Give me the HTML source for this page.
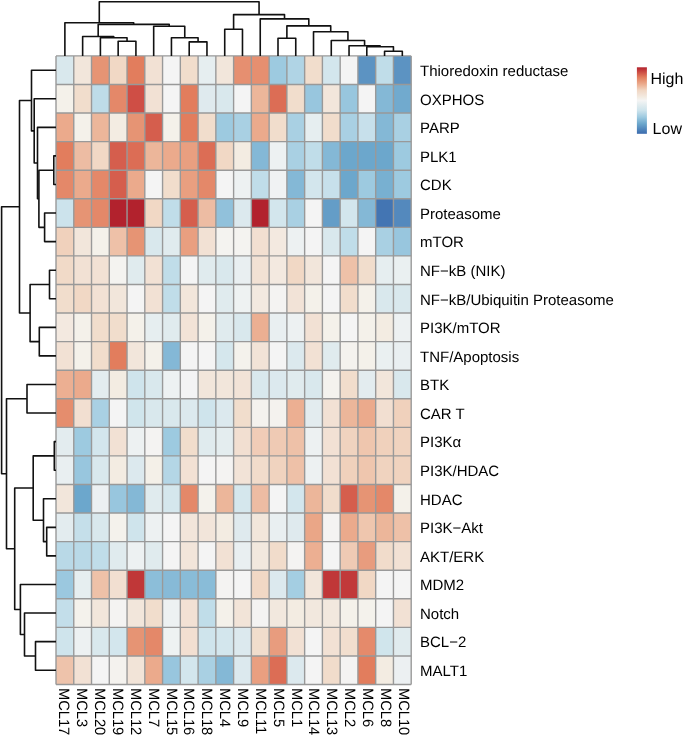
<!DOCTYPE html>
<html><head><meta charset="utf-8"><style>
html,body{margin:0;padding:0;background:#fff;}
body{width:685px;height:736px;overflow:hidden;font-family:"Liberation Sans",sans-serif;}
svg{display:block;will-change:transform;} text{text-rendering:geometricPrecision;}
</style></head><body>
<svg width="685" height="736" viewBox="0 0 685 736">
<defs><linearGradient id="lg" x1="0" y1="0" x2="0" y2="1"><stop offset="0%" stop-color="#b2222d"/><stop offset="5%" stop-color="#c53f3d"/><stop offset="10%" stop-color="#d55e4d"/><stop offset="15%" stop-color="#e27d5d"/><stop offset="20%" stop-color="#e69474"/><stop offset="25%" stop-color="#ebaa8c"/><stop offset="30%" stop-color="#eec1a8"/><stop offset="35%" stop-color="#f1d8c5"/><stop offset="40%" stop-color="#f2e1d4"/><stop offset="45%" stop-color="#f3ece2"/><stop offset="50%" stop-color="#f4f4f4"/><stop offset="55%" stop-color="#e6eef0"/><stop offset="60%" stop-color="#d9e8ed"/><stop offset="65%" stop-color="#cce3ec"/><stop offset="70%" stop-color="#b5d6e6"/><stop offset="75%" stop-color="#9dcae0"/><stop offset="80%" stop-color="#84b8d6"/><stop offset="85%" stop-color="#6ca7cc"/><stop offset="90%" stop-color="#5c93c2"/><stop offset="95%" stop-color="#4b7fb8"/><stop offset="100%" stop-color="#3b6bae"/></linearGradient></defs>
<rect x="0" y="0" width="685" height="736" fill="#ffffff"/>
<g shape-rendering="crispEdges"><rect x="56.00" y="55.90" width="17.76" height="28.57" fill="#d9e8ed"/><rect x="73.76" y="55.90" width="17.76" height="28.57" fill="#f2e6db"/><rect x="91.52" y="55.90" width="17.76" height="28.57" fill="#e69474"/><rect x="109.28" y="55.90" width="17.76" height="28.57" fill="#f1d8c5"/><rect x="127.04" y="55.90" width="17.76" height="28.57" fill="#e27d5d"/><rect x="144.80" y="55.90" width="17.76" height="28.57" fill="#f2e1d4"/><rect x="162.56" y="55.90" width="17.76" height="28.57" fill="#f4f4f4"/><rect x="180.32" y="55.90" width="17.76" height="28.57" fill="#f1ddcc"/><rect x="198.08" y="55.90" width="17.76" height="28.57" fill="#e6eef0"/><rect x="215.84" y="55.90" width="17.76" height="28.57" fill="#f2e6db"/><rect x="233.60" y="55.90" width="17.76" height="28.57" fill="#e68f70"/><rect x="251.36" y="55.90" width="17.76" height="28.57" fill="#e68f70"/><rect x="269.12" y="55.90" width="17.76" height="28.57" fill="#9dcae0"/><rect x="286.88" y="55.90" width="17.76" height="28.57" fill="#b0d4e5"/><rect x="304.64" y="55.90" width="17.76" height="28.57" fill="#f1ddcc"/><rect x="322.40" y="55.90" width="17.76" height="28.57" fill="#d3e6ed"/><rect x="340.16" y="55.90" width="17.76" height="28.57" fill="#f4f4f4"/><rect x="357.92" y="55.90" width="17.76" height="28.57" fill="#5c93c2"/><rect x="375.68" y="55.90" width="17.76" height="28.57" fill="#c0dde9"/><rect x="393.44" y="55.90" width="17.76" height="28.57" fill="#5c93c2"/><rect x="56.00" y="84.47" width="17.76" height="28.57" fill="#f4f1ea"/><rect x="73.76" y="84.47" width="17.76" height="28.57" fill="#f1ddcc"/><rect x="91.52" y="84.47" width="17.76" height="28.57" fill="#bedce8"/><rect x="109.28" y="84.47" width="17.76" height="28.57" fill="#e48869"/><rect x="127.04" y="84.47" width="17.76" height="28.57" fill="#cf4e45"/><rect x="144.80" y="84.47" width="17.76" height="28.57" fill="#f2e1d4"/><rect x="162.56" y="84.47" width="17.76" height="28.57" fill="#f4f4f4"/><rect x="180.32" y="84.47" width="17.76" height="28.57" fill="#e27d5d"/><rect x="198.08" y="84.47" width="17.76" height="28.57" fill="#dfeaee"/><rect x="215.84" y="84.47" width="17.76" height="28.57" fill="#d9e8ed"/><rect x="233.60" y="84.47" width="17.76" height="28.57" fill="#f4f4f4"/><rect x="251.36" y="84.47" width="17.76" height="28.57" fill="#ecb69a"/><rect x="269.12" y="84.47" width="17.76" height="28.57" fill="#dc6d55"/><rect x="286.88" y="84.47" width="17.76" height="28.57" fill="#f1ddcc"/><rect x="304.64" y="84.47" width="17.76" height="28.57" fill="#98c6de"/><rect x="322.40" y="84.47" width="17.76" height="28.57" fill="#f2e6db"/><rect x="340.16" y="84.47" width="17.76" height="28.57" fill="#98c6de"/><rect x="357.92" y="84.47" width="17.76" height="28.57" fill="#f4f4f4"/><rect x="375.68" y="84.47" width="17.76" height="28.57" fill="#84b8d6"/><rect x="393.44" y="84.47" width="17.76" height="28.57" fill="#71aace"/><rect x="56.00" y="113.05" width="17.76" height="28.57" fill="#ebaa8c"/><rect x="73.76" y="113.05" width="17.76" height="28.57" fill="#f4f1ea"/><rect x="91.52" y="113.05" width="17.76" height="28.57" fill="#ecb69a"/><rect x="109.28" y="113.05" width="17.76" height="28.57" fill="#f3ece2"/><rect x="127.04" y="113.05" width="17.76" height="28.57" fill="#e69474"/><rect x="144.80" y="113.05" width="17.76" height="28.57" fill="#d55e4d"/><rect x="162.56" y="113.05" width="17.76" height="28.57" fill="#f4f1ea"/><rect x="180.32" y="113.05" width="17.76" height="28.57" fill="#e27d5d"/><rect x="198.08" y="113.05" width="17.76" height="28.57" fill="#f1ddcc"/><rect x="215.84" y="113.05" width="17.76" height="28.57" fill="#9dcae0"/><rect x="233.60" y="113.05" width="17.76" height="28.57" fill="#a9d0e3"/><rect x="251.36" y="113.05" width="17.76" height="28.57" fill="#ebaa8c"/><rect x="269.12" y="113.05" width="17.76" height="28.57" fill="#f1ddcc"/><rect x="286.88" y="113.05" width="17.76" height="28.57" fill="#a9d0e3"/><rect x="304.64" y="113.05" width="17.76" height="28.57" fill="#e6eef0"/><rect x="322.40" y="113.05" width="17.76" height="28.57" fill="#f1ddcc"/><rect x="340.16" y="113.05" width="17.76" height="28.57" fill="#a9d0e3"/><rect x="357.92" y="113.05" width="17.76" height="28.57" fill="#c7e0eb"/><rect x="375.68" y="113.05" width="17.76" height="28.57" fill="#84b8d6"/><rect x="393.44" y="113.05" width="17.76" height="28.57" fill="#a9d0e3"/><rect x="56.00" y="141.62" width="17.76" height="28.57" fill="#e27d5d"/><rect x="73.76" y="141.62" width="17.76" height="28.57" fill="#edbca3"/><rect x="91.52" y="141.62" width="17.76" height="28.57" fill="#f1d8c5"/><rect x="109.28" y="141.62" width="17.76" height="28.57" fill="#d55e4d"/><rect x="127.04" y="141.62" width="17.76" height="28.57" fill="#dc6d55"/><rect x="144.80" y="141.62" width="17.76" height="28.57" fill="#ecb69a"/><rect x="162.56" y="141.62" width="17.76" height="28.57" fill="#ebaa8c"/><rect x="180.32" y="141.62" width="17.76" height="28.57" fill="#e99f80"/><rect x="198.08" y="141.62" width="17.76" height="28.57" fill="#dc6d55"/><rect x="215.84" y="141.62" width="17.76" height="28.57" fill="#f1d8c5"/><rect x="233.60" y="141.62" width="17.76" height="28.57" fill="#f3ece2"/><rect x="251.36" y="141.62" width="17.76" height="28.57" fill="#84b8d6"/><rect x="269.12" y="141.62" width="17.76" height="28.57" fill="#edf1f2"/><rect x="286.88" y="141.62" width="17.76" height="28.57" fill="#a9d0e3"/><rect x="304.64" y="141.62" width="17.76" height="28.57" fill="#c0dde9"/><rect x="322.40" y="141.62" width="17.76" height="28.57" fill="#84b8d6"/><rect x="340.16" y="141.62" width="17.76" height="28.57" fill="#6ca7cc"/><rect x="357.92" y="141.62" width="17.76" height="28.57" fill="#6ca7cc"/><rect x="375.68" y="141.62" width="17.76" height="28.57" fill="#6ca7cc"/><rect x="393.44" y="141.62" width="17.76" height="28.57" fill="#9dcae0"/><rect x="56.00" y="170.19" width="17.76" height="28.57" fill="#e48869"/><rect x="73.76" y="170.19" width="17.76" height="28.57" fill="#ebaa8c"/><rect x="91.52" y="170.19" width="17.76" height="28.57" fill="#e48869"/><rect x="109.28" y="170.19" width="17.76" height="28.57" fill="#d55e4d"/><rect x="127.04" y="170.19" width="17.76" height="28.57" fill="#ebaa8c"/><rect x="144.80" y="170.19" width="17.76" height="28.57" fill="#f4f4f4"/><rect x="162.56" y="170.19" width="17.76" height="28.57" fill="#f1ddcc"/><rect x="180.32" y="170.19" width="17.76" height="28.57" fill="#e99f80"/><rect x="198.08" y="170.19" width="17.76" height="28.57" fill="#e48869"/><rect x="215.84" y="170.19" width="17.76" height="28.57" fill="#f4f4f4"/><rect x="233.60" y="170.19" width="17.76" height="28.57" fill="#edf1f2"/><rect x="251.36" y="170.19" width="17.76" height="28.57" fill="#c0dde9"/><rect x="269.12" y="170.19" width="17.76" height="28.57" fill="#f0f2f3"/><rect x="286.88" y="170.19" width="17.76" height="28.57" fill="#84b8d6"/><rect x="304.64" y="170.19" width="17.76" height="28.57" fill="#d3e6ed"/><rect x="322.40" y="170.19" width="17.76" height="28.57" fill="#c7e0eb"/><rect x="340.16" y="170.19" width="17.76" height="28.57" fill="#6ca7cc"/><rect x="357.92" y="170.19" width="17.76" height="28.57" fill="#9dcae0"/><rect x="375.68" y="170.19" width="17.76" height="28.57" fill="#78b0d1"/><rect x="393.44" y="170.19" width="17.76" height="28.57" fill="#9dcae0"/><rect x="56.00" y="198.76" width="17.76" height="28.57" fill="#cce3ec"/><rect x="73.76" y="198.76" width="17.76" height="28.57" fill="#e69474"/><rect x="91.52" y="198.76" width="17.76" height="28.57" fill="#e48869"/><rect x="109.28" y="198.76" width="17.76" height="28.57" fill="#b2222d"/><rect x="127.04" y="198.76" width="17.76" height="28.57" fill="#b2222d"/><rect x="144.80" y="198.76" width="17.76" height="28.57" fill="#f1d8c5"/><rect x="162.56" y="198.76" width="17.76" height="28.57" fill="#c0dde9"/><rect x="180.32" y="198.76" width="17.76" height="28.57" fill="#d55e4d"/><rect x="198.08" y="198.76" width="17.76" height="28.57" fill="#edbca3"/><rect x="215.84" y="198.76" width="17.76" height="28.57" fill="#91c1db"/><rect x="233.60" y="198.76" width="17.76" height="28.57" fill="#dce9ee"/><rect x="251.36" y="198.76" width="17.76" height="28.57" fill="#b2222d"/><rect x="269.12" y="198.76" width="17.76" height="28.57" fill="#d3e6ed"/><rect x="286.88" y="198.76" width="17.76" height="28.57" fill="#a9d0e3"/><rect x="304.64" y="198.76" width="17.76" height="28.57" fill="#f4f4f4"/><rect x="322.40" y="198.76" width="17.76" height="28.57" fill="#649dc7"/><rect x="340.16" y="198.76" width="17.76" height="28.57" fill="#d3e6ed"/><rect x="357.92" y="198.76" width="17.76" height="28.57" fill="#84b8d6"/><rect x="375.68" y="198.76" width="17.76" height="28.57" fill="#4375b3"/><rect x="393.44" y="198.76" width="17.76" height="28.57" fill="#5489bd"/><rect x="56.00" y="227.34" width="17.76" height="28.57" fill="#f0d1bc"/><rect x="73.76" y="227.34" width="17.76" height="28.57" fill="#f2e6db"/><rect x="91.52" y="227.34" width="17.76" height="28.57" fill="#f4f1ea"/><rect x="109.28" y="227.34" width="17.76" height="28.57" fill="#eec1a8"/><rect x="127.04" y="227.34" width="17.76" height="28.57" fill="#e69474"/><rect x="144.80" y="227.34" width="17.76" height="28.57" fill="#d9e8ed"/><rect x="162.56" y="227.34" width="17.76" height="28.57" fill="#e0ebee"/><rect x="180.32" y="227.34" width="17.76" height="28.57" fill="#e99f80"/><rect x="198.08" y="227.34" width="17.76" height="28.57" fill="#f2e1d4"/><rect x="215.84" y="227.34" width="17.76" height="28.57" fill="#f4f3f0"/><rect x="233.60" y="227.34" width="17.76" height="28.57" fill="#f4f3f0"/><rect x="251.36" y="227.34" width="17.76" height="28.57" fill="#f2dfd1"/><rect x="269.12" y="227.34" width="17.76" height="28.57" fill="#f3e9e0"/><rect x="286.88" y="227.34" width="17.76" height="28.57" fill="#edf1f2"/><rect x="304.64" y="227.34" width="17.76" height="28.57" fill="#f4f4f4"/><rect x="322.40" y="227.34" width="17.76" height="28.57" fill="#d9e8ed"/><rect x="340.16" y="227.34" width="17.76" height="28.57" fill="#c0dde9"/><rect x="357.92" y="227.34" width="17.76" height="28.57" fill="#f4f4f4"/><rect x="375.68" y="227.34" width="17.76" height="28.57" fill="#a9d0e3"/><rect x="393.44" y="227.34" width="17.76" height="28.57" fill="#98c6de"/><rect x="56.00" y="255.91" width="17.76" height="28.57" fill="#f1dac8"/><rect x="73.76" y="255.91" width="17.76" height="28.57" fill="#f2e1d4"/><rect x="91.52" y="255.91" width="17.76" height="28.57" fill="#f2e1d4"/><rect x="109.28" y="255.91" width="17.76" height="28.57" fill="#f4f3f0"/><rect x="127.04" y="255.91" width="17.76" height="28.57" fill="#e0ebee"/><rect x="144.80" y="255.91" width="17.76" height="28.57" fill="#f2e1d4"/><rect x="162.56" y="255.91" width="17.76" height="28.57" fill="#c0dde9"/><rect x="180.32" y="255.91" width="17.76" height="28.57" fill="#f4f4f4"/><rect x="198.08" y="255.91" width="17.76" height="28.57" fill="#e0ebee"/><rect x="215.84" y="255.91" width="17.76" height="28.57" fill="#d9e8ed"/><rect x="233.60" y="255.91" width="17.76" height="28.57" fill="#e9eff1"/><rect x="251.36" y="255.91" width="17.76" height="28.57" fill="#f2e1d4"/><rect x="269.12" y="255.91" width="17.76" height="28.57" fill="#f3e9e0"/><rect x="286.88" y="255.91" width="17.76" height="28.57" fill="#f1d8c5"/><rect x="304.64" y="255.91" width="17.76" height="28.57" fill="#f2e6db"/><rect x="322.40" y="255.91" width="17.76" height="28.57" fill="#f4f4f4"/><rect x="340.16" y="255.91" width="17.76" height="28.57" fill="#eec1a8"/><rect x="357.92" y="255.91" width="17.76" height="28.57" fill="#f1ddcc"/><rect x="375.68" y="255.91" width="17.76" height="28.57" fill="#e6eef0"/><rect x="393.44" y="255.91" width="17.76" height="28.57" fill="#eaf0f1"/><rect x="56.00" y="284.48" width="17.76" height="28.57" fill="#f1ddcc"/><rect x="73.76" y="284.48" width="17.76" height="28.57" fill="#f1d8c5"/><rect x="91.52" y="284.48" width="17.76" height="28.57" fill="#f2e1d4"/><rect x="109.28" y="284.48" width="17.76" height="28.57" fill="#f2e6db"/><rect x="127.04" y="284.48" width="17.76" height="28.57" fill="#f4f4f4"/><rect x="144.80" y="284.48" width="17.76" height="28.57" fill="#f2e1d4"/><rect x="162.56" y="284.48" width="17.76" height="28.57" fill="#c0dde9"/><rect x="180.32" y="284.48" width="17.76" height="28.57" fill="#f2e6db"/><rect x="198.08" y="284.48" width="17.76" height="28.57" fill="#f4f4f4"/><rect x="215.84" y="284.48" width="17.76" height="28.57" fill="#e0ebee"/><rect x="233.60" y="284.48" width="17.76" height="28.57" fill="#eef2f2"/><rect x="251.36" y="284.48" width="17.76" height="28.57" fill="#f3e9e0"/><rect x="269.12" y="284.48" width="17.76" height="28.57" fill="#f4f3f2"/><rect x="286.88" y="284.48" width="17.76" height="28.57" fill="#f2e3d7"/><rect x="304.64" y="284.48" width="17.76" height="28.57" fill="#f4f1ea"/><rect x="322.40" y="284.48" width="17.76" height="28.57" fill="#f4f4f4"/><rect x="340.16" y="284.48" width="17.76" height="28.57" fill="#f1ddcc"/><rect x="357.92" y="284.48" width="17.76" height="28.57" fill="#f4f1ea"/><rect x="375.68" y="284.48" width="17.76" height="28.57" fill="#d9e8ed"/><rect x="393.44" y="284.48" width="17.76" height="28.57" fill="#d9e8ed"/><rect x="56.00" y="313.05" width="17.76" height="28.57" fill="#f3e9e0"/><rect x="73.76" y="313.05" width="17.76" height="28.57" fill="#f4f1ea"/><rect x="91.52" y="313.05" width="17.76" height="28.57" fill="#f1ddcc"/><rect x="109.28" y="313.05" width="17.76" height="28.57" fill="#f1ddcc"/><rect x="127.04" y="313.05" width="17.76" height="28.57" fill="#f4f1ea"/><rect x="144.80" y="313.05" width="17.76" height="28.57" fill="#e6eef0"/><rect x="162.56" y="313.05" width="17.76" height="28.57" fill="#e0ebee"/><rect x="180.32" y="313.05" width="17.76" height="28.57" fill="#f2e3d7"/><rect x="198.08" y="313.05" width="17.76" height="28.57" fill="#f4f1ea"/><rect x="215.84" y="313.05" width="17.76" height="28.57" fill="#e0ebee"/><rect x="233.60" y="313.05" width="17.76" height="28.57" fill="#d9e8ed"/><rect x="251.36" y="313.05" width="17.76" height="28.57" fill="#ecaf92"/><rect x="269.12" y="313.05" width="17.76" height="28.57" fill="#e9eff1"/><rect x="286.88" y="313.05" width="17.76" height="28.57" fill="#edf1f2"/><rect x="304.64" y="313.05" width="17.76" height="28.57" fill="#f2e1d4"/><rect x="322.40" y="313.05" width="17.76" height="28.57" fill="#f4f1ea"/><rect x="340.16" y="313.05" width="17.76" height="28.57" fill="#f4f4f4"/><rect x="357.92" y="313.05" width="17.76" height="28.57" fill="#f4f1ea"/><rect x="375.68" y="313.05" width="17.76" height="28.57" fill="#f3ece2"/><rect x="393.44" y="313.05" width="17.76" height="28.57" fill="#edf1f2"/><rect x="56.00" y="341.63" width="17.76" height="28.57" fill="#f2e1d4"/><rect x="73.76" y="341.63" width="17.76" height="28.57" fill="#f4f1ea"/><rect x="91.52" y="341.63" width="17.76" height="28.57" fill="#f1ddcc"/><rect x="109.28" y="341.63" width="17.76" height="28.57" fill="#e27d5d"/><rect x="127.04" y="341.63" width="17.76" height="28.57" fill="#f2e6db"/><rect x="144.80" y="341.63" width="17.76" height="28.57" fill="#f4f1ea"/><rect x="162.56" y="341.63" width="17.76" height="28.57" fill="#84b8d6"/><rect x="180.32" y="341.63" width="17.76" height="28.57" fill="#f4f4f4"/><rect x="198.08" y="341.63" width="17.76" height="28.57" fill="#f4f4f4"/><rect x="215.84" y="341.63" width="17.76" height="28.57" fill="#d5e7ed"/><rect x="233.60" y="341.63" width="17.76" height="28.57" fill="#f4f2ec"/><rect x="251.36" y="341.63" width="17.76" height="28.57" fill="#f2e3d7"/><rect x="269.12" y="341.63" width="17.76" height="28.57" fill="#f4f4f4"/><rect x="286.88" y="341.63" width="17.76" height="28.57" fill="#dce9ee"/><rect x="304.64" y="341.63" width="17.76" height="28.57" fill="#f2e1d4"/><rect x="322.40" y="341.63" width="17.76" height="28.57" fill="#e0ebee"/><rect x="340.16" y="341.63" width="17.76" height="28.57" fill="#f4f2ee"/><rect x="357.92" y="341.63" width="17.76" height="28.57" fill="#f4f1ea"/><rect x="375.68" y="341.63" width="17.76" height="28.57" fill="#eaf0f1"/><rect x="393.44" y="341.63" width="17.76" height="28.57" fill="#e9eff1"/><rect x="56.00" y="370.20" width="17.76" height="28.57" fill="#ecaf92"/><rect x="73.76" y="370.20" width="17.76" height="28.57" fill="#ebaa8c"/><rect x="91.52" y="370.20" width="17.76" height="28.57" fill="#e3ecef"/><rect x="109.28" y="370.20" width="17.76" height="28.57" fill="#f3ece2"/><rect x="127.04" y="370.20" width="17.76" height="28.57" fill="#cfe4ec"/><rect x="144.80" y="370.20" width="17.76" height="28.57" fill="#d9e8ed"/><rect x="162.56" y="370.20" width="17.76" height="28.57" fill="#edf1f2"/><rect x="180.32" y="370.20" width="17.76" height="28.57" fill="#f3f3f4"/><rect x="198.08" y="370.20" width="17.76" height="28.57" fill="#f2e6db"/><rect x="215.84" y="370.20" width="17.76" height="28.57" fill="#f2e6db"/><rect x="233.60" y="370.20" width="17.76" height="28.57" fill="#f2e3d7"/><rect x="251.36" y="370.20" width="17.76" height="28.57" fill="#d9e8ed"/><rect x="269.12" y="370.20" width="17.76" height="28.57" fill="#dce9ee"/><rect x="286.88" y="370.20" width="17.76" height="28.57" fill="#e0ebee"/><rect x="304.64" y="370.20" width="17.76" height="28.57" fill="#d9e8ed"/><rect x="322.40" y="370.20" width="17.76" height="28.57" fill="#f4f2ee"/><rect x="340.16" y="370.20" width="17.76" height="28.57" fill="#f1ddcc"/><rect x="357.92" y="370.20" width="17.76" height="28.57" fill="#e3ecef"/><rect x="375.68" y="370.20" width="17.76" height="28.57" fill="#f2e6db"/><rect x="393.44" y="370.20" width="17.76" height="28.57" fill="#d9e8ed"/><rect x="56.00" y="398.77" width="17.76" height="28.57" fill="#e58d6d"/><rect x="73.76" y="398.77" width="17.76" height="28.57" fill="#f2dfd1"/><rect x="91.52" y="398.77" width="17.76" height="28.57" fill="#a9d0e3"/><rect x="109.28" y="398.77" width="17.76" height="28.57" fill="#f4f4f4"/><rect x="127.04" y="398.77" width="17.76" height="28.57" fill="#d0e5ec"/><rect x="144.80" y="398.77" width="17.76" height="28.57" fill="#d9e8ed"/><rect x="162.56" y="398.77" width="17.76" height="28.57" fill="#d9e8ed"/><rect x="180.32" y="398.77" width="17.76" height="28.57" fill="#dce9ee"/><rect x="198.08" y="398.77" width="17.76" height="28.57" fill="#cfe4ec"/><rect x="215.84" y="398.77" width="17.76" height="28.57" fill="#dce9ee"/><rect x="233.60" y="398.77" width="17.76" height="28.57" fill="#f1ddcc"/><rect x="251.36" y="398.77" width="17.76" height="28.57" fill="#f4f2ee"/><rect x="269.12" y="398.77" width="17.76" height="28.57" fill="#f4f2ee"/><rect x="286.88" y="398.77" width="17.76" height="28.57" fill="#ecaf92"/><rect x="304.64" y="398.77" width="17.76" height="28.57" fill="#e3ecef"/><rect x="322.40" y="398.77" width="17.76" height="28.57" fill="#f2e1d4"/><rect x="340.16" y="398.77" width="17.76" height="28.57" fill="#ecb69a"/><rect x="357.92" y="398.77" width="17.76" height="28.57" fill="#ebaa8c"/><rect x="375.68" y="398.77" width="17.76" height="28.57" fill="#f2dfd1"/><rect x="393.44" y="398.77" width="17.76" height="28.57" fill="#f0d1bc"/><rect x="56.00" y="427.35" width="17.76" height="28.57" fill="#e3ecef"/><rect x="73.76" y="427.35" width="17.76" height="28.57" fill="#9dcae0"/><rect x="91.52" y="427.35" width="17.76" height="28.57" fill="#d3e6ed"/><rect x="109.28" y="427.35" width="17.76" height="28.57" fill="#f2e1d4"/><rect x="127.04" y="427.35" width="17.76" height="28.57" fill="#edf1f2"/><rect x="144.80" y="427.35" width="17.76" height="28.57" fill="#f4f3f2"/><rect x="162.56" y="427.35" width="17.76" height="28.57" fill="#9dcae0"/><rect x="180.32" y="427.35" width="17.76" height="28.57" fill="#f1ddcc"/><rect x="198.08" y="427.35" width="17.76" height="28.57" fill="#e0ebee"/><rect x="215.84" y="427.35" width="17.76" height="28.57" fill="#e4edef"/><rect x="233.60" y="427.35" width="17.76" height="28.57" fill="#f2dfd1"/><rect x="251.36" y="427.35" width="17.76" height="28.57" fill="#f0ccb7"/><rect x="269.12" y="427.35" width="17.76" height="28.57" fill="#efcab4"/><rect x="286.88" y="427.35" width="17.76" height="28.57" fill="#eec1a8"/><rect x="304.64" y="427.35" width="17.76" height="28.57" fill="#edf1f2"/><rect x="322.40" y="427.35" width="17.76" height="28.57" fill="#f2e1d4"/><rect x="340.16" y="427.35" width="17.76" height="28.57" fill="#f0d3bf"/><rect x="357.92" y="427.35" width="17.76" height="28.57" fill="#efc6ae"/><rect x="375.68" y="427.35" width="17.76" height="28.57" fill="#f0d1bc"/><rect x="393.44" y="427.35" width="17.76" height="28.57" fill="#f0d3bf"/><rect x="56.00" y="455.92" width="17.76" height="28.57" fill="#e9eff1"/><rect x="73.76" y="455.92" width="17.76" height="28.57" fill="#98c6de"/><rect x="91.52" y="455.92" width="17.76" height="28.57" fill="#d9e8ed"/><rect x="109.28" y="455.92" width="17.76" height="28.57" fill="#f3ece2"/><rect x="127.04" y="455.92" width="17.76" height="28.57" fill="#dce9ee"/><rect x="144.80" y="455.92" width="17.76" height="28.57" fill="#f4f0e8"/><rect x="162.56" y="455.92" width="17.76" height="28.57" fill="#b4d6e6"/><rect x="180.32" y="455.92" width="17.76" height="28.57" fill="#f2e1d4"/><rect x="198.08" y="455.92" width="17.76" height="28.57" fill="#f4f4f4"/><rect x="215.84" y="455.92" width="17.76" height="28.57" fill="#f4f3f2"/><rect x="233.60" y="455.92" width="17.76" height="28.57" fill="#f2e3d7"/><rect x="251.36" y="455.92" width="17.76" height="28.57" fill="#f1dccb"/><rect x="269.12" y="455.92" width="17.76" height="28.57" fill="#f0d3bf"/><rect x="286.88" y="455.92" width="17.76" height="28.57" fill="#eec1a8"/><rect x="304.64" y="455.92" width="17.76" height="28.57" fill="#edf1f2"/><rect x="322.40" y="455.92" width="17.76" height="28.57" fill="#f2e1d4"/><rect x="340.16" y="455.92" width="17.76" height="28.57" fill="#f0d1bc"/><rect x="357.92" y="455.92" width="17.76" height="28.57" fill="#efc6ae"/><rect x="375.68" y="455.92" width="17.76" height="28.57" fill="#f0d3bf"/><rect x="393.44" y="455.92" width="17.76" height="28.57" fill="#f0d3bf"/><rect x="56.00" y="484.49" width="17.76" height="28.57" fill="#f2e6db"/><rect x="73.76" y="484.49" width="17.76" height="28.57" fill="#6ca7cc"/><rect x="91.52" y="484.49" width="17.76" height="28.57" fill="#ecf0f2"/><rect x="109.28" y="484.49" width="17.76" height="28.57" fill="#98c6de"/><rect x="127.04" y="484.49" width="17.76" height="28.57" fill="#84b8d6"/><rect x="144.80" y="484.49" width="17.76" height="28.57" fill="#e0ebee"/><rect x="162.56" y="484.49" width="17.76" height="28.57" fill="#d5e7ed"/><rect x="180.32" y="484.49" width="17.76" height="28.57" fill="#e48869"/><rect x="198.08" y="484.49" width="17.76" height="28.57" fill="#f4f2ec"/><rect x="215.84" y="484.49" width="17.76" height="28.57" fill="#ecb69a"/><rect x="233.60" y="484.49" width="17.76" height="28.57" fill="#d5e7ed"/><rect x="251.36" y="484.49" width="17.76" height="28.57" fill="#edbca3"/><rect x="269.12" y="484.49" width="17.76" height="28.57" fill="#f4f4f4"/><rect x="286.88" y="484.49" width="17.76" height="28.57" fill="#d3e6ed"/><rect x="304.64" y="484.49" width="17.76" height="28.57" fill="#ecb69a"/><rect x="322.40" y="484.49" width="17.76" height="28.57" fill="#f1ddcc"/><rect x="340.16" y="484.49" width="17.76" height="28.57" fill="#d55e4d"/><rect x="357.92" y="484.49" width="17.76" height="28.57" fill="#e69474"/><rect x="375.68" y="484.49" width="17.76" height="28.57" fill="#e48869"/><rect x="393.44" y="484.49" width="17.76" height="28.57" fill="#f4f1ea"/><rect x="56.00" y="513.06" width="17.76" height="28.57" fill="#e3ecef"/><rect x="73.76" y="513.06" width="17.76" height="28.57" fill="#c5dfea"/><rect x="91.52" y="513.06" width="17.76" height="28.57" fill="#d9e8ed"/><rect x="109.28" y="513.06" width="17.76" height="28.57" fill="#f4f2ec"/><rect x="127.04" y="513.06" width="17.76" height="28.57" fill="#cfe4ec"/><rect x="144.80" y="513.06" width="17.76" height="28.57" fill="#edf1f2"/><rect x="162.56" y="513.06" width="17.76" height="28.57" fill="#f4f4f4"/><rect x="180.32" y="513.06" width="17.76" height="28.57" fill="#f2e5da"/><rect x="198.08" y="513.06" width="17.76" height="28.57" fill="#f2e5da"/><rect x="215.84" y="513.06" width="17.76" height="28.57" fill="#f3ece2"/><rect x="233.60" y="513.06" width="17.76" height="28.57" fill="#dfeaee"/><rect x="251.36" y="513.06" width="17.76" height="28.57" fill="#f2e6db"/><rect x="269.12" y="513.06" width="17.76" height="28.57" fill="#e9eff1"/><rect x="286.88" y="513.06" width="17.76" height="28.57" fill="#dfeaee"/><rect x="304.64" y="513.06" width="17.76" height="28.57" fill="#eaa687"/><rect x="322.40" y="513.06" width="17.76" height="28.57" fill="#f4f3f2"/><rect x="340.16" y="513.06" width="17.76" height="28.57" fill="#ebaa8c"/><rect x="357.92" y="513.06" width="17.76" height="28.57" fill="#efc6ae"/><rect x="375.68" y="513.06" width="17.76" height="28.57" fill="#ecb69a"/><rect x="393.44" y="513.06" width="17.76" height="28.57" fill="#eec1a8"/><rect x="56.00" y="541.64" width="17.76" height="28.57" fill="#b9d9e7"/><rect x="73.76" y="541.64" width="17.76" height="28.57" fill="#b9d9e7"/><rect x="91.52" y="541.64" width="17.76" height="28.57" fill="#c0dde9"/><rect x="109.28" y="541.64" width="17.76" height="28.57" fill="#e0ebee"/><rect x="127.04" y="541.64" width="17.76" height="28.57" fill="#edf1f2"/><rect x="144.80" y="541.64" width="17.76" height="28.57" fill="#e0ebee"/><rect x="162.56" y="541.64" width="17.76" height="28.57" fill="#f4f4f4"/><rect x="180.32" y="541.64" width="17.76" height="28.57" fill="#f2e5da"/><rect x="198.08" y="541.64" width="17.76" height="28.57" fill="#f4f4f4"/><rect x="215.84" y="541.64" width="17.76" height="28.57" fill="#f2e1d4"/><rect x="233.60" y="541.64" width="17.76" height="28.57" fill="#e9eff1"/><rect x="251.36" y="541.64" width="17.76" height="28.57" fill="#f2e8de"/><rect x="269.12" y="541.64" width="17.76" height="28.57" fill="#f1dccb"/><rect x="286.88" y="541.64" width="17.76" height="28.57" fill="#f4f3f2"/><rect x="304.64" y="541.64" width="17.76" height="28.57" fill="#ecaf92"/><rect x="322.40" y="541.64" width="17.76" height="28.57" fill="#f4f4f4"/><rect x="340.16" y="541.64" width="17.76" height="28.57" fill="#efcab4"/><rect x="357.92" y="541.64" width="17.76" height="28.57" fill="#e89c7e"/><rect x="375.68" y="541.64" width="17.76" height="28.57" fill="#f1dccb"/><rect x="393.44" y="541.64" width="17.76" height="28.57" fill="#f2e1d4"/><rect x="56.00" y="570.21" width="17.76" height="28.57" fill="#9bc8df"/><rect x="73.76" y="570.21" width="17.76" height="28.57" fill="#e6eef0"/><rect x="91.52" y="570.21" width="17.76" height="28.57" fill="#eec1a8"/><rect x="109.28" y="570.21" width="17.76" height="28.57" fill="#f2dfd1"/><rect x="127.04" y="570.21" width="17.76" height="28.57" fill="#c03738"/><rect x="144.80" y="570.21" width="17.76" height="28.57" fill="#8cbed9"/><rect x="162.56" y="570.21" width="17.76" height="28.57" fill="#87bad7"/><rect x="180.32" y="570.21" width="17.76" height="28.57" fill="#89bcd8"/><rect x="198.08" y="570.21" width="17.76" height="28.57" fill="#89bcd8"/><rect x="215.84" y="570.21" width="17.76" height="28.57" fill="#f4f3f2"/><rect x="233.60" y="570.21" width="17.76" height="28.57" fill="#f4f4f4"/><rect x="251.36" y="570.21" width="17.76" height="28.57" fill="#f1d8c5"/><rect x="269.12" y="570.21" width="17.76" height="28.57" fill="#dce9ee"/><rect x="286.88" y="570.21" width="17.76" height="28.57" fill="#a4cee2"/><rect x="304.64" y="570.21" width="17.76" height="28.57" fill="#f2e6db"/><rect x="322.40" y="570.21" width="17.76" height="28.57" fill="#c03738"/><rect x="340.16" y="570.21" width="17.76" height="28.57" fill="#c1393a"/><rect x="357.92" y="570.21" width="17.76" height="28.57" fill="#f1d8c5"/><rect x="375.68" y="570.21" width="17.76" height="28.57" fill="#f4f4f4"/><rect x="393.44" y="570.21" width="17.76" height="28.57" fill="#f4f4f4"/><rect x="56.00" y="598.78" width="17.76" height="28.57" fill="#c3deea"/><rect x="73.76" y="598.78" width="17.76" height="28.57" fill="#f4f2ec"/><rect x="91.52" y="598.78" width="17.76" height="28.57" fill="#f2e6db"/><rect x="109.28" y="598.78" width="17.76" height="28.57" fill="#f4f3f2"/><rect x="127.04" y="598.78" width="17.76" height="28.57" fill="#f2e6db"/><rect x="144.80" y="598.78" width="17.76" height="28.57" fill="#f1ddcc"/><rect x="162.56" y="598.78" width="17.76" height="28.57" fill="#edf1f2"/><rect x="180.32" y="598.78" width="17.76" height="28.57" fill="#f2e1d4"/><rect x="198.08" y="598.78" width="17.76" height="28.57" fill="#c0dde9"/><rect x="215.84" y="598.78" width="17.76" height="28.57" fill="#f4f1ea"/><rect x="233.60" y="598.78" width="17.76" height="28.57" fill="#f2e4d8"/><rect x="251.36" y="598.78" width="17.76" height="28.57" fill="#f4f3f2"/><rect x="269.12" y="598.78" width="17.76" height="28.57" fill="#f2e8de"/><rect x="286.88" y="598.78" width="17.76" height="28.57" fill="#f3ece2"/><rect x="304.64" y="598.78" width="17.76" height="28.57" fill="#f2e8de"/><rect x="322.40" y="598.78" width="17.76" height="28.57" fill="#f2e8de"/><rect x="340.16" y="598.78" width="17.76" height="28.57" fill="#f4f1ea"/><rect x="357.92" y="598.78" width="17.76" height="28.57" fill="#f4f2ec"/><rect x="375.68" y="598.78" width="17.76" height="28.57" fill="#f4f4f4"/><rect x="393.44" y="598.78" width="17.76" height="28.57" fill="#f2e1d4"/><rect x="56.00" y="627.35" width="17.76" height="28.57" fill="#cfe4ec"/><rect x="73.76" y="627.35" width="17.76" height="28.57" fill="#edf1f2"/><rect x="91.52" y="627.35" width="17.76" height="28.57" fill="#d9e8ed"/><rect x="109.28" y="627.35" width="17.76" height="28.57" fill="#d3e6ed"/><rect x="127.04" y="627.35" width="17.76" height="28.57" fill="#e69474"/><rect x="144.80" y="627.35" width="17.76" height="28.57" fill="#e48869"/><rect x="162.56" y="627.35" width="17.76" height="28.57" fill="#eef2f2"/><rect x="180.32" y="627.35" width="17.76" height="28.57" fill="#f2dfd1"/><rect x="198.08" y="627.35" width="17.76" height="28.57" fill="#cfe4ec"/><rect x="215.84" y="627.35" width="17.76" height="28.57" fill="#d3e6ed"/><rect x="233.60" y="627.35" width="17.76" height="28.57" fill="#dce9ee"/><rect x="251.36" y="627.35" width="17.76" height="28.57" fill="#f1ddcc"/><rect x="269.12" y="627.35" width="17.76" height="28.57" fill="#e89c7e"/><rect x="286.88" y="627.35" width="17.76" height="28.57" fill="#f2e1d4"/><rect x="304.64" y="627.35" width="17.76" height="28.57" fill="#f4f4f4"/><rect x="322.40" y="627.35" width="17.76" height="28.57" fill="#f2e1d4"/><rect x="340.16" y="627.35" width="17.76" height="28.57" fill="#f1dece"/><rect x="357.92" y="627.35" width="17.76" height="28.57" fill="#e58a6b"/><rect x="375.68" y="627.35" width="17.76" height="28.57" fill="#d0e5ec"/><rect x="393.44" y="627.35" width="17.76" height="28.57" fill="#e0ebee"/><rect x="56.00" y="655.93" width="17.76" height="28.57" fill="#eec3ab"/><rect x="73.76" y="655.93" width="17.76" height="28.57" fill="#f2e1d4"/><rect x="91.52" y="655.93" width="17.76" height="28.57" fill="#f4f4f4"/><rect x="109.28" y="655.93" width="17.76" height="28.57" fill="#f4f2ee"/><rect x="127.04" y="655.93" width="17.76" height="28.57" fill="#f2e4d8"/><rect x="144.80" y="655.93" width="17.76" height="28.57" fill="#ebaa8c"/><rect x="162.56" y="655.93" width="17.76" height="28.57" fill="#98c6de"/><rect x="180.32" y="655.93" width="17.76" height="28.57" fill="#d3e6ed"/><rect x="198.08" y="655.93" width="17.76" height="28.57" fill="#a9d0e3"/><rect x="215.84" y="655.93" width="17.76" height="28.57" fill="#84b8d6"/><rect x="233.60" y="655.93" width="17.76" height="28.57" fill="#dce9ee"/><rect x="251.36" y="655.93" width="17.76" height="28.57" fill="#e99f80"/><rect x="269.12" y="655.93" width="17.76" height="28.57" fill="#dc6d55"/><rect x="286.88" y="655.93" width="17.76" height="28.57" fill="#dce9ee"/><rect x="304.64" y="655.93" width="17.76" height="28.57" fill="#f4f4f4"/><rect x="322.40" y="655.93" width="17.76" height="28.57" fill="#f1dccb"/><rect x="340.16" y="655.93" width="17.76" height="28.57" fill="#f4f3f2"/><rect x="357.92" y="655.93" width="17.76" height="28.57" fill="#e27d5d"/><rect x="375.68" y="655.93" width="17.76" height="28.57" fill="#f3ece2"/><rect x="393.44" y="655.93" width="17.76" height="28.57" fill="#ecf0f2"/></g>
<g stroke="#999999" stroke-width="1.4" fill="none"><line x1="56.00" y1="55.90" x2="56.00" y2="684.50"/><line x1="73.76" y1="55.90" x2="73.76" y2="684.50"/><line x1="91.52" y1="55.90" x2="91.52" y2="684.50"/><line x1="109.28" y1="55.90" x2="109.28" y2="684.50"/><line x1="127.04" y1="55.90" x2="127.04" y2="684.50"/><line x1="144.80" y1="55.90" x2="144.80" y2="684.50"/><line x1="162.56" y1="55.90" x2="162.56" y2="684.50"/><line x1="180.32" y1="55.90" x2="180.32" y2="684.50"/><line x1="198.08" y1="55.90" x2="198.08" y2="684.50"/><line x1="215.84" y1="55.90" x2="215.84" y2="684.50"/><line x1="233.60" y1="55.90" x2="233.60" y2="684.50"/><line x1="251.36" y1="55.90" x2="251.36" y2="684.50"/><line x1="269.12" y1="55.90" x2="269.12" y2="684.50"/><line x1="286.88" y1="55.90" x2="286.88" y2="684.50"/><line x1="304.64" y1="55.90" x2="304.64" y2="684.50"/><line x1="322.40" y1="55.90" x2="322.40" y2="684.50"/><line x1="340.16" y1="55.90" x2="340.16" y2="684.50"/><line x1="357.92" y1="55.90" x2="357.92" y2="684.50"/><line x1="375.68" y1="55.90" x2="375.68" y2="684.50"/><line x1="393.44" y1="55.90" x2="393.44" y2="684.50"/><line x1="411.20" y1="55.90" x2="411.20" y2="684.50"/><line x1="56.00" y1="55.90" x2="411.20" y2="55.90"/><line x1="56.00" y1="84.47" x2="411.20" y2="84.47"/><line x1="56.00" y1="113.05" x2="411.20" y2="113.05"/><line x1="56.00" y1="141.62" x2="411.20" y2="141.62"/><line x1="56.00" y1="170.19" x2="411.20" y2="170.19"/><line x1="56.00" y1="198.76" x2="411.20" y2="198.76"/><line x1="56.00" y1="227.34" x2="411.20" y2="227.34"/><line x1="56.00" y1="255.91" x2="411.20" y2="255.91"/><line x1="56.00" y1="284.48" x2="411.20" y2="284.48"/><line x1="56.00" y1="313.05" x2="411.20" y2="313.05"/><line x1="56.00" y1="341.63" x2="411.20" y2="341.63"/><line x1="56.00" y1="370.20" x2="411.20" y2="370.20"/><line x1="56.00" y1="398.77" x2="411.20" y2="398.77"/><line x1="56.00" y1="427.35" x2="411.20" y2="427.35"/><line x1="56.00" y1="455.92" x2="411.20" y2="455.92"/><line x1="56.00" y1="484.49" x2="411.20" y2="484.49"/><line x1="56.00" y1="513.06" x2="411.20" y2="513.06"/><line x1="56.00" y1="541.64" x2="411.20" y2="541.64"/><line x1="56.00" y1="570.21" x2="411.20" y2="570.21"/><line x1="56.00" y1="598.78" x2="411.20" y2="598.78"/><line x1="56.00" y1="627.35" x2="411.20" y2="627.35"/><line x1="56.00" y1="655.93" x2="411.20" y2="655.93"/><line x1="56.00" y1="684.50" x2="411.20" y2="684.50"/></g>
<g stroke="#111111" stroke-width="1.6" fill="none" stroke-linecap="butt" stroke-linejoin="round"><polyline points="118.16,55.90 118.16,41.30 135.92,41.30 135.92,55.90"/><polyline points="100.40,55.90 100.40,37.70 127.04,37.70 127.04,41.30"/><polyline points="82.64,55.90 82.64,36.50 113.72,36.50 113.72,37.70"/><polyline points="189.20,55.90 189.20,41.90 206.96,41.90 206.96,55.90"/><polyline points="171.44,55.90 171.44,37.70 198.08,37.70 198.08,41.90"/><polyline points="153.68,55.90 153.68,26.30 184.76,26.30 184.76,37.70"/><polyline points="98.18,36.50 98.18,24.40 169.22,24.40 169.22,26.30"/><polyline points="64.88,55.90 64.88,22.70 133.70,22.70 133.70,24.40"/><polyline points="224.72,55.90 224.72,29.20 242.48,29.20 242.48,55.90"/><polyline points="278.00,55.90 278.00,38.20 295.76,38.20 295.76,55.90"/><polyline points="384.56,55.90 384.56,51.30 402.32,51.30 402.32,55.90"/><polyline points="366.80,55.90 366.80,46.70 393.44,46.70 393.44,51.30"/><polyline points="349.04,55.90 349.04,45.80 380.12,45.80 380.12,46.70"/><polyline points="331.28,55.90 331.28,40.50 364.58,40.50 364.58,45.80"/><polyline points="313.52,55.90 313.52,31.80 347.93,31.80 347.93,40.50"/><polyline points="286.88,38.20 286.88,25.90 330.72,25.90 330.72,31.80"/><polyline points="260.24,55.90 260.24,18.90 308.80,18.90 308.80,25.90"/><polyline points="233.60,29.20 233.60,14.60 284.52,14.60 284.52,18.90"/><polyline points="99.29,22.70 99.29,1.75 259.06,1.75 259.06,14.60"/><polyline points="56.00,155.90 53.80,155.90 53.80,184.48 56.00,184.48"/><polyline points="56.00,213.05 44.60,213.05 44.60,241.62 56.00,241.62"/><polyline points="53.80,170.19 38.90,170.19 38.90,227.34 44.60,227.34"/><polyline points="56.00,127.33 37.50,127.33 37.50,198.76 38.90,198.76"/><polyline points="56.00,98.76 34.20,98.76 34.20,163.05 37.50,163.05"/><polyline points="56.00,70.19 31.50,70.19 31.50,130.90 34.20,130.90"/><polyline points="56.00,270.20 49.50,270.20 49.50,298.77 56.00,298.77"/><polyline points="56.00,327.34 39.30,327.34 39.30,355.91 56.00,355.91"/><polyline points="49.50,284.48 30.10,284.48 30.10,341.63 39.30,341.63"/><polyline points="31.50,100.54 19.50,100.54 19.50,313.05 30.10,313.05"/><polyline points="56.00,384.49 27.00,384.49 27.00,413.06 56.00,413.06"/><polyline points="56.00,441.63 54.30,441.63 54.30,470.20 56.00,470.20"/><polyline points="56.00,527.35 46.70,527.35 46.70,555.92 56.00,555.92"/><polyline points="56.00,498.78 43.50,498.78 43.50,541.64 46.70,541.64"/><polyline points="54.30,455.92 33.20,455.92 33.20,520.21 43.50,520.21"/><polyline points="56.00,641.64 35.50,641.64 35.50,670.21 56.00,670.21"/><polyline points="56.00,613.07 24.50,613.07 24.50,655.93 35.50,655.93"/><polyline points="56.00,584.50 20.40,584.50 20.40,634.50 24.50,634.50"/><polyline points="33.20,488.06 14.70,488.06 14.70,609.50 20.40,609.50"/><polyline points="27.00,398.77 6.50,398.77 6.50,548.78 14.70,548.78"/><polyline points="19.50,206.80 1.60,206.80 1.60,473.78 6.50,473.78"/></g>
<g font-family="Liberation Sans, sans-serif" font-size="15" fill="#000"><text transform="translate(420.0,75.99)">Thioredoxin reductase</text><text transform="translate(420.0,104.56)">OXPHOS</text><text transform="translate(420.0,133.13)">PARP</text><text transform="translate(420.0,161.70)">PLK1</text><text transform="translate(420.0,190.28)">CDK</text><text transform="translate(420.0,218.85)">Proteasome</text><text transform="translate(420.0,247.42)">mTOR</text><text transform="translate(420.0,276.00)">NF−kB (NIK)</text><text transform="translate(420.0,304.57)">NF−kB/Ubiquitin Proteasome</text><text transform="translate(420.0,333.14)">PI3K/mTOR</text><text transform="translate(420.0,361.71)">TNF/Apoptosis</text><text transform="translate(420.0,390.29)">BTK</text><text transform="translate(420.0,418.86)">CAR T</text><text transform="translate(420.0,447.43)">PI3Kα</text><text transform="translate(420.0,476.00)">PI3K/HDAC</text><text transform="translate(420.0,504.58)">HDAC</text><text transform="translate(420.0,533.15)">PI3K−Akt</text><text transform="translate(420.0,561.72)">AKT/ERK</text><text transform="translate(420.0,590.30)">MDM2</text><text transform="translate(420.0,618.87)">Notch</text><text transform="translate(420.0,647.44)">BCL−2</text><text transform="translate(420.0,676.01)">MALT1</text></g>
<g font-family="Liberation Sans, sans-serif" font-size="15" fill="#000"><text transform="translate(59.35,688.1) rotate(90) scale(0.975,1.0)" x="0" y="0">MCL17</text><text transform="translate(77.22,688.1) rotate(90) scale(0.975,1.0)" x="0" y="0">MCL3</text><text transform="translate(95.08,688.1) rotate(90) scale(0.975,1.0)" x="0" y="0">MCL20</text><text transform="translate(112.95,688.1) rotate(90) scale(0.975,1.0)" x="0" y="0">MCL19</text><text transform="translate(130.81,688.1) rotate(90) scale(0.975,1.0)" x="0" y="0">MCL12</text><text transform="translate(148.68,688.1) rotate(90) scale(0.975,1.0)" x="0" y="0">MCL7</text><text transform="translate(166.55,688.1) rotate(90) scale(0.975,1.0)" x="0" y="0">MCL15</text><text transform="translate(184.41,688.1) rotate(90) scale(0.975,1.0)" x="0" y="0">MCL16</text><text transform="translate(202.28,688.1) rotate(90) scale(0.975,1.0)" x="0" y="0">MCL18</text><text transform="translate(220.14,688.1) rotate(90) scale(0.975,1.0)" x="0" y="0">MCL4</text><text transform="translate(238.01,688.1) rotate(90) scale(0.975,1.0)" x="0" y="0">MCL9</text><text transform="translate(255.88,688.1) rotate(90) scale(0.975,1.0)" x="0" y="0">MCL11</text><text transform="translate(273.74,688.1) rotate(90) scale(0.975,1.0)" x="0" y="0">MCL5</text><text transform="translate(291.61,688.1) rotate(90) scale(0.975,1.0)" x="0" y="0">MCL1</text><text transform="translate(309.47,688.1) rotate(90) scale(0.975,1.0)" x="0" y="0">MCL14</text><text transform="translate(327.34,688.1) rotate(90) scale(0.975,1.0)" x="0" y="0">MCL13</text><text transform="translate(345.21,688.1) rotate(90) scale(0.975,1.0)" x="0" y="0">MCL2</text><text transform="translate(363.07,688.1) rotate(90) scale(0.975,1.0)" x="0" y="0">MCL6</text><text transform="translate(380.94,688.1) rotate(90) scale(0.975,1.0)" x="0" y="0">MCL8</text><text transform="translate(398.80,688.1) rotate(90) scale(0.975,1.0)" x="0" y="0">MCL10</text></g>
<rect x="636.9" y="67.3" width="10" height="66.5" fill="url(#lg)"/>
<g font-family="Liberation Sans, sans-serif" font-size="16" fill="#000"><text x="650.5" y="83.6">High</text><text x="652.6" y="133.5">Low</text></g>
</svg>
</body></html>
